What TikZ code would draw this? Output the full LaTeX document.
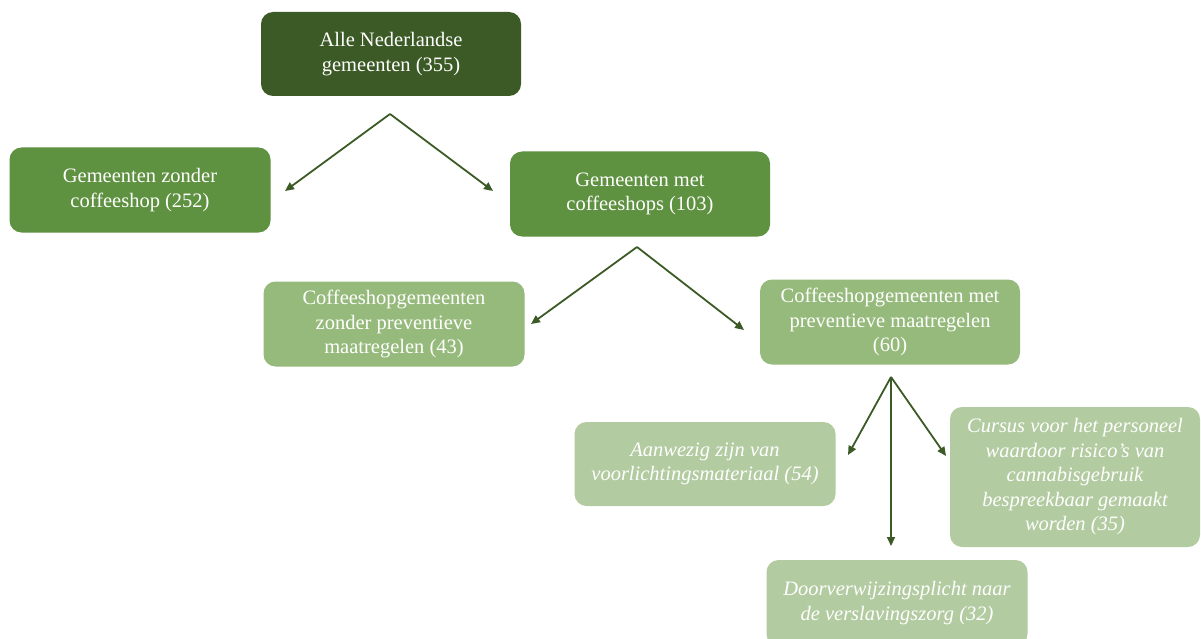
\documentclass[tikz,border=0pt]{standalone}
\usepackage{fontspec}
\setmainfont{Liberation Serif}
\usetikzlibrary{arrows.meta}
\definecolor{darkgr}{HTML}{3C5A25}
\definecolor{midgr}{HTML}{5E9140}
\definecolor{lightgr}{HTML}{96BA7B}
\definecolor{palegr}{HTML}{B2CBA0}
\tikzset{
  box/.style={rounded corners=12pt, text=white, align=center, inner sep=0pt,
    font=\fontsize{20.5}{24.5}\selectfont},
  ibox/.style={box, font=\fontsize{20.5}{24.5}\selectfont\itshape},
  pijl/.style={draw=darkgr, line width=1.8pt, -{Triangle[length=9pt,width=8pt]}}
}
\begin{document}
\begin{tikzpicture}[x=1pt,y=-1pt]
    \useasboundingbox (0,0) rectangle (1201,639);
    % niveau 1
    \node[box, fill=darkgr, minimum width=260pt, minimum height=84pt] (alle) at (391,54) {Alle Nederlandse\\gemeenten (355)};
    % niveau 2
    \node[box, fill=midgr, minimum width=261pt, minimum height=85pt] (zonder) at (140,190) {Gemeenten zonder\\coffeeshop (252)};
    \node[box, fill=midgr, minimum width=260pt, minimum height=85pt] (met) at (640,194) {Gemeenten met\\coffeeshops (103)};
    % niveau 3
    \node[box, fill=lightgr, minimum width=261pt, minimum height=85pt] (zonderprev) at (394,324) {Coffeeshopgemeenten\\zonder preventieve\\maatregelen (43)};
    \node[box, fill=lightgr, minimum width=260pt, minimum height=85pt] (metprev) at (890,322) {Coffeeshopgemeenten met\\preventieve maatregelen\\(60)};
    % niveau 4
    \node[ibox, fill=palegr, minimum width=261pt, minimum height=84pt] (voorl) at (705,464) {Aanwezig zijn van\\voorlichtingsmateriaal (54)};
    \node[ibox, fill=palegr, minimum width=250pt, minimum height=140pt] (cursus) at (1075,477) {Cursus voor het personeel\\waardoor risico's van\\cannabisgebruik\\bespreekbaar gemaakt\\worden (35)};
    \node[ibox, fill=palegr, minimum width=261pt, minimum height=86pt] (verwijs) at (897,603) {Doorverwijzingsplicht naar\\de verslavingszorg (32)};

    \coordinate (s1) at (390,114);
    \coordinate (e1a) at (285,191);
    \coordinate (e1b) at (493,191);
    \coordinate (s2) at (637,247);
    \coordinate (e2a) at (531,324);
    \coordinate (e2b) at (744,330);
    \coordinate (s3) at (891,377);
    \coordinate (e3a) at (848,455);
    \coordinate (e3b) at (891,546);
    \coordinate (e3c) at (946,456);

    \draw[pijl] (s1) -- (e1a);
    \draw[pijl] (s1) -- (e1b);
    \draw[pijl] (s2) -- (e2a);
    \draw[pijl] (s2) -- (e2b);
    \draw[pijl] (s3) -- (e3a);
    \draw[pijl] (s3) -- (e3b);
    \draw[pijl] (s3) -- (e3c);
  \end{tikzpicture}
\end{document}
